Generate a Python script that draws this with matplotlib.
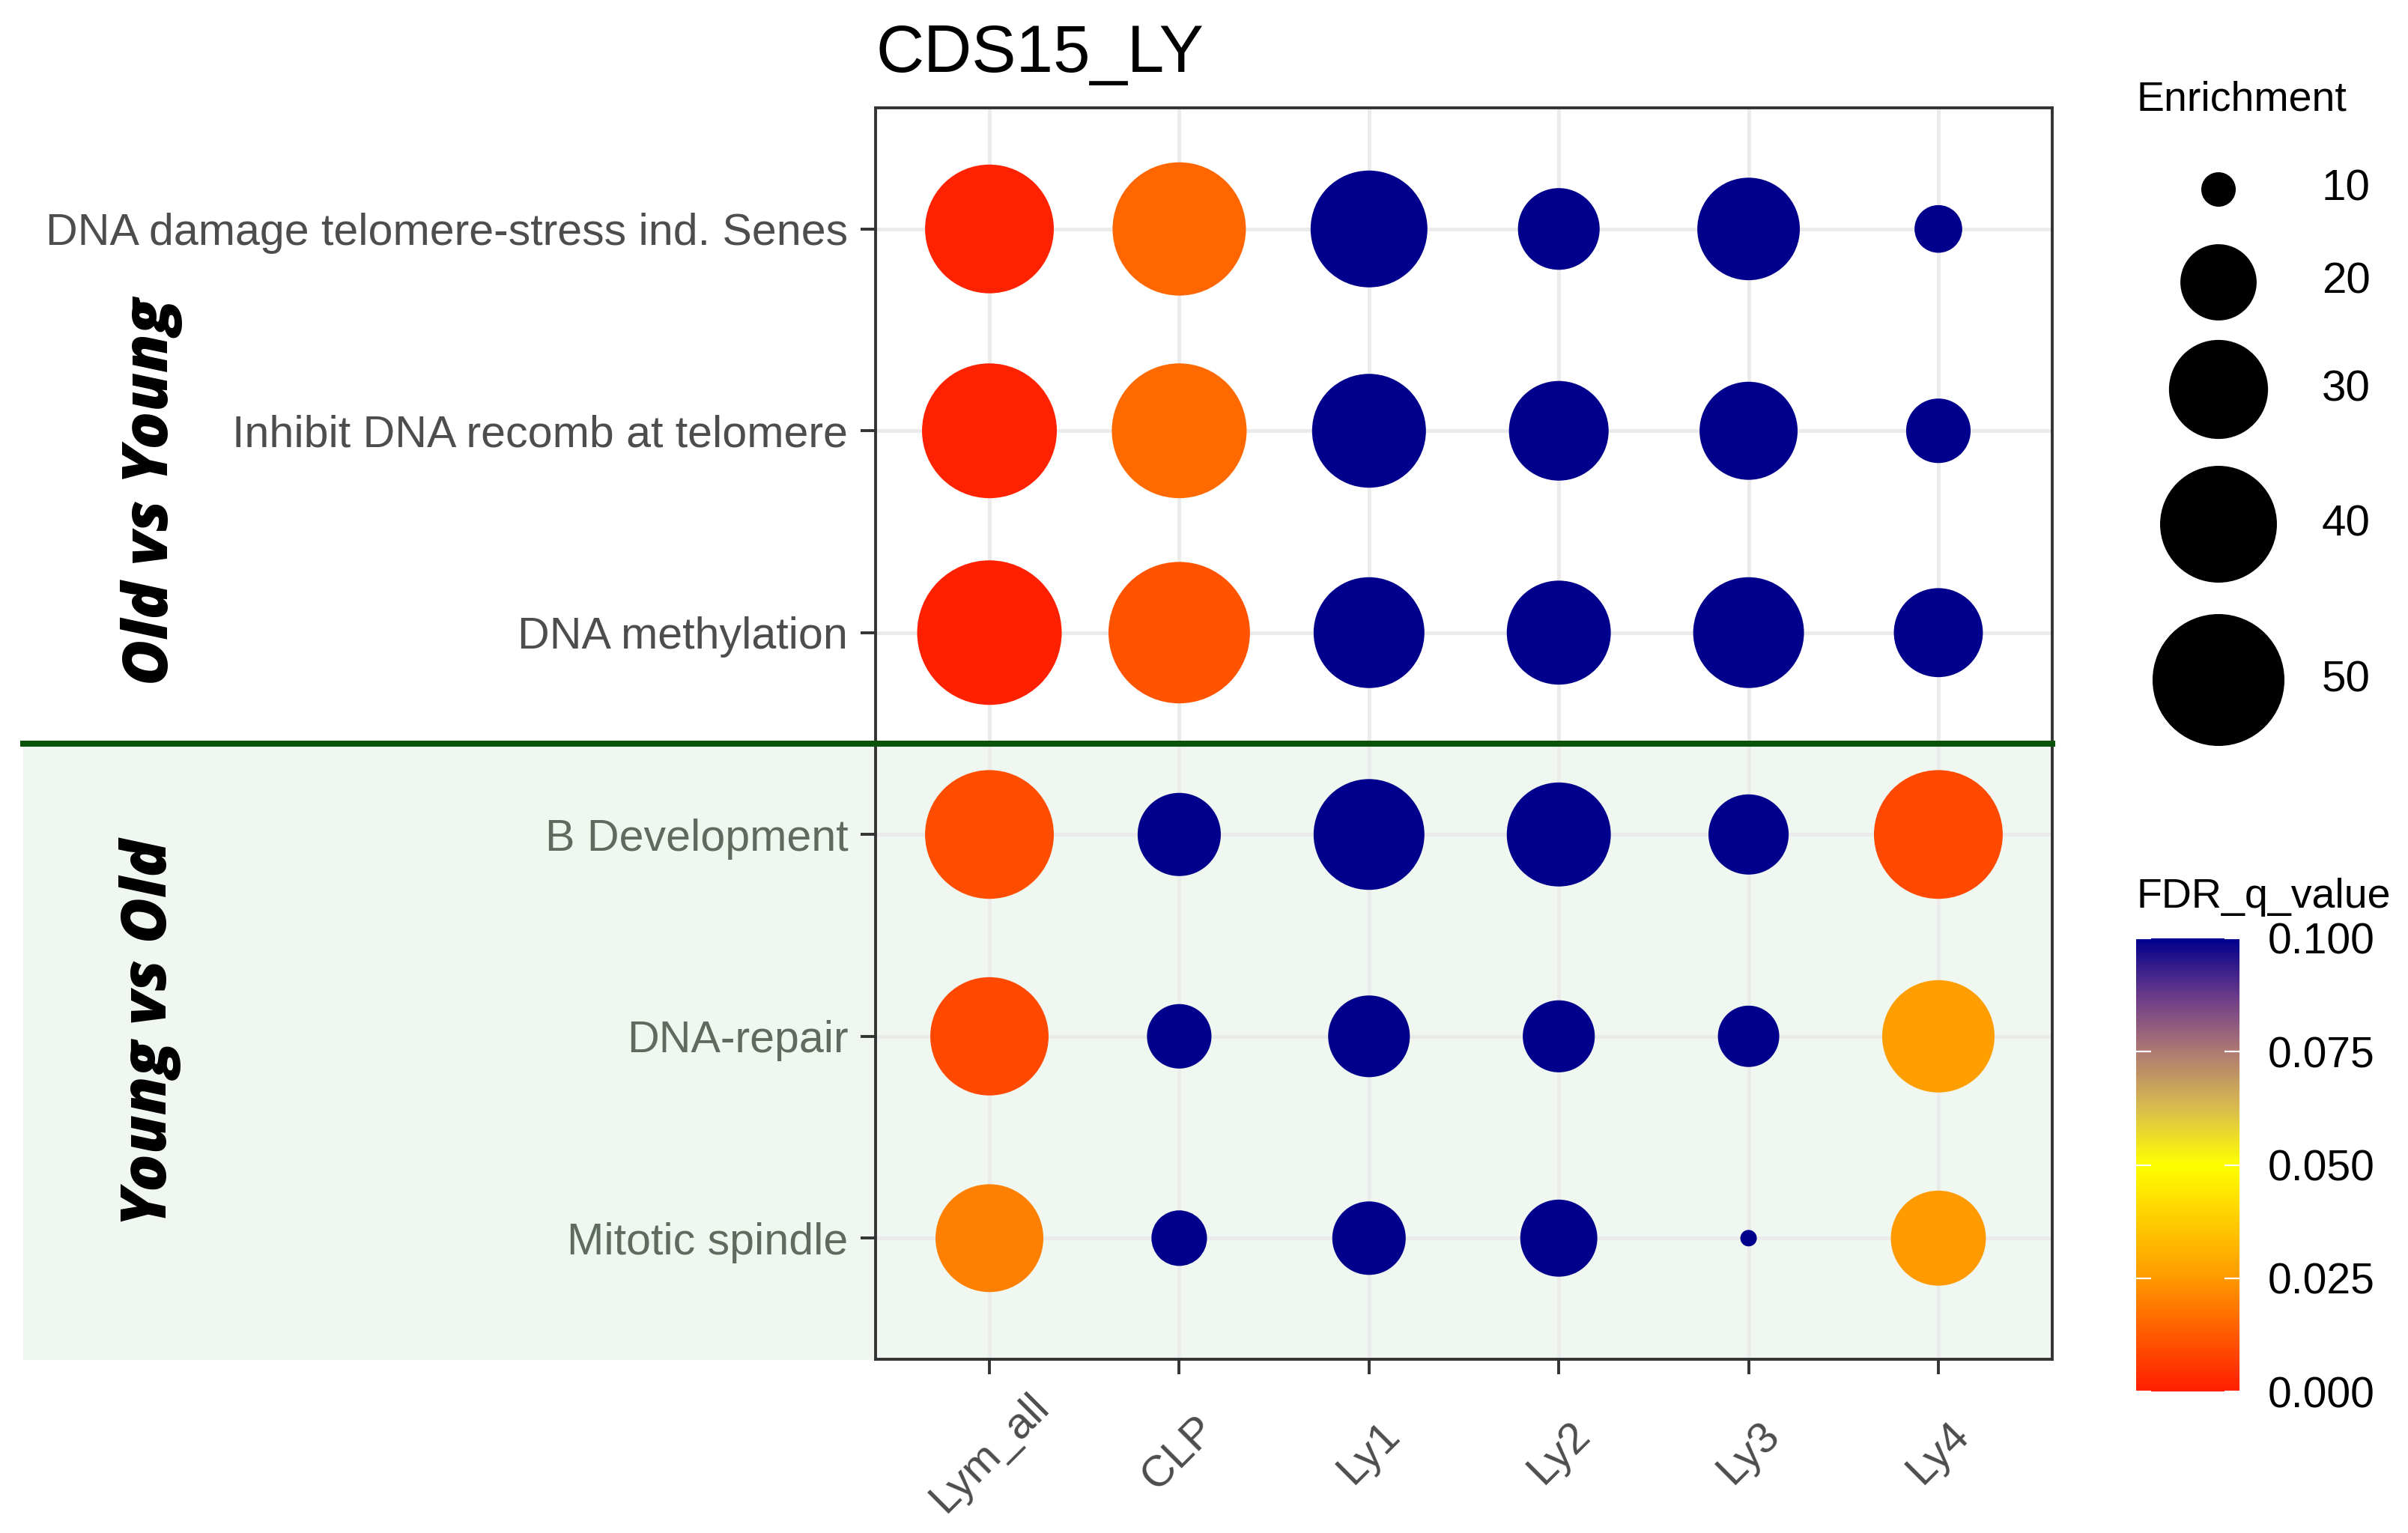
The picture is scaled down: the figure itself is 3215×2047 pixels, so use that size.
import numpy as np
import matplotlib
matplotlib.use("Agg")
import matplotlib.pyplot as plt
from matplotlib.colors import LinearSegmentedColormap, Normalize
from matplotlib.patches import Rectangle
from matplotlib.lines import Line2D

plt.rcParams['font.family'] = ['Liberation Sans', 'DejaVu Sans']

# Andmed
samples = ["Lym_all", "CLP", "Ly1", "Ly2", "Ly3", "Ly4"]
pathways = [
    "DNA damage telomere-stress ind. Senes",
    "Inhibit DNA recomb at telomere",
    "DNA methylation",
    "B Development",
    "DNA-repair",
    "Mitotic spindle",
]
groups = ["Old vs Young", "Young vs Old"]

enrichment = [
    [47.8, 51.0, 40.0, 22.1, 31.8, 12.0],
    [52.1, 52.1, 38.2, 30.3, 29.5, 16.1],
    [59.5, 57.1, 36.4, 32.6, 36.4, 25.2],
    [47.8, 22.7, 36.4, 32.6, 21.5, 47.8],
    [40.9, 16.1, 22.1, 18.5, 15.2, 37.3],
    [34.7, 13.7, 19.0, 20.3, 9.0, 28.0],
]
fdr_q = [
    [0.001, 0.015, 0.100, 0.100, 0.100, 0.100],
    [0.001, 0.016, 0.100, 0.100, 0.100, 0.100],
    [0.0005, 0.011, 0.100, 0.100, 0.100, 0.100],
    [0.010, 0.100, 0.100, 0.100, 0.100, 0.009],
    [0.009, 0.100, 0.100, 0.100, 0.100, 0.026],
    [0.020, 0.100, 0.100, 0.100, 0.100, 0.025],
]
size_breaks = [10, 20, 30, 40, 50]
fdr_ticks = [0.0, 0.025, 0.05, 0.075, 0.1]
fdr_ticklabels = ["0.000", "0.025", "0.050", "0.075", "0.100"]

W, H, DPI = 3216, 2047, 200

cmap = LinearSegmentedColormap.from_list("fdr", [
    (0.0, "#FF1E00"), (0.125, "#FF5A00"), (0.25, "#FF9A00"), (0.375, "#FFCC00"),
    (0.5, "#FFFF00"), (0.625, "#D9BC4E"), (0.75, "#B07A72"), (0.875, "#6A3A8A"),
    (1.0, "#00008C")])
norm = Normalize(0, 0.1)

enr = np.array(enrichment)
e_min, e_max = enr.min(), enr.max()


def marker_area(v):
    # pindala skaala: halkaisija 22..193 px
    frac = np.sqrt((np.asarray(v, dtype=float) - e_min) / (e_max - e_min))
    d_px = 22 + (193 - 22) * frac
    return (d_px * 72 / DPI) ** 2


fig = plt.figure(figsize=(W / DPI, H / DPI), dpi=DPI)
ax = fig.add_axes([1169 / W, 1 - 1815 / H, (2740 - 1169) / W, (1815 - 144) / H])
ax.set_facecolor("none")

# alumise osa taust
fig.add_artist(Rectangle((31 / W, 1 - 1816 / H), (2740 - 31) / W, (1816 - 993) / H,
                         transform=fig.transFigure, facecolor="#F0F7F0",
                         edgecolor="none", zorder=-1))

xx, yy = np.meshgrid(np.arange(len(samples)), np.arange(len(pathways)))
sc = ax.scatter(xx.ravel(), yy.ravel(), s=marker_area(enr.ravel()),
                c=np.array(fdr_q).ravel(), cmap=cmap, norm=norm,
                linewidths=0, zorder=3)

ax.set_xlim(-0.6, len(samples) - 0.4)
ax.set_ylim(len(pathways) - 0.4, -0.6)
ax.set_xticks(range(len(samples)), samples)
ax.set_yticks(range(len(pathways)), pathways)
ax.grid(True, color="#EBEBEB", lw=1.8)
ax.set_axisbelow(True)
for sp in ax.spines.values():
    sp.set_color("#333333")
    sp.set_linewidth(1.4)
ax.tick_params(axis="both", length=7.2, width=1.4, color="#333333", labelcolor="#4D4D4D")
ax.tick_params(axis="y", labelsize=21.3, pad=6)
ax.tick_params(axis="x", labelsize=21, pad=38)
for lbl in ax.get_xticklabels():
    lbl.set_rotation(45)
    lbl.set_ha("center")
    lbl.set_va("center")
    lbl.set_rotation_mode("anchor")
for lbl in ax.get_yticklabels()[3:]:
    lbl.set_color("#5E6B5E")

# eraldusjoon
fig.add_artist(Line2D([31 / W, 2740 / W], [1 - 993 / H] * 2, transform=fig.transFigure,
                      color="#0B520B", lw=2.9, zorder=5))

fig.text(203 / W, 1 - 657 / H, groups[0], rotation=90, ha="center", va="center",
         fontsize=30, fontweight="heavy", style="italic", family="Open Sans")
fig.text(201 / W, 1 - 1379 / H, groups[1], rotation=90, ha="center", va="center",
         fontsize=30, fontweight="heavy", style="italic", family="Open Sans")

fig.text(1169 / W, 1 - 96 / H, "CDS15_LY", fontsize=32, ha="left", va="baseline")

# Enrichment legend
fig.text(2853 / W, 1 - 148 / H, "Enrichment", fontsize=20, ha="left", va="baseline")
leg = fig.add_axes([2800 / W, 1 - 1000 / H, 416 / W, 820 / H])
leg.set_xlim(2800, 3216)
leg.set_ylim(1000, 180)
leg.axis("off")
key_y = [253, 377, 520, 700, 908]
leg.scatter([2962] * len(size_breaks), key_y, s=marker_area(size_breaks), color="black",
            linewidths=0)
for b, y in zip(size_breaks, key_y):
    leg.text(3100, y, str(b), fontsize=21, ha="left", va="center")

# FDR colorbar
fig.text(2853 / W, 1 - 1212 / H, "FDR_q_value", fontsize=20, ha="left", va="baseline")
cax = fig.add_axes([2852 / W, 1 - 1858 / H, 138 / W, 605 / H])
cb = fig.colorbar(sc, cax=cax, ticks=fdr_ticks)
cb.ax.set_yticklabels(fdr_ticklabels)
cb.outline.set_visible(False)
cax.tick_params(direction="in", color="white", length=7.2, width=0.8, left=True, right=True,
                labelsize=20.5, pad=13.7)

fig.savefig("out.png", dpi=DPI)
